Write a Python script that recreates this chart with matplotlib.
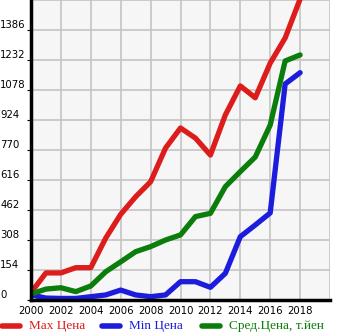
import matplotlib
matplotlib.use("Agg")
import matplotlib.pyplot as plt
from matplotlib.lines import Line2D

years = list(range(2000, 2019))
max_price = [38, 139, 139, 166, 166, 318, 440, 530, 607, 780, 883, 831, 744, 950, 1099, 1038, 1216, 1345, 1545]
min_price = [26, 10, 8, 8, 17, 26, 51, 26, 17, 26, 94, 94, 65, 137, 325, 385, 447, 1109, 1167]
avg_price = [31, 56, 63, 43, 72, 145, 196, 248, 274, 308, 334, 428, 445, 582, 659, 734, 898, 1227, 1258]
yticks = [0, 154, 308, 462, 616, 770, 924, 1078, 1232, 1386]
xticks = list(range(2000, 2019, 2))
labels = ["Max Цена", "Min Цена", "Сред.Цена, т.йен"]
colors = ["#dd1c1c", "#1c1cdd", "#0a7d0a"]

W, H = 345, 335
fig = plt.figure(figsize=(W / 100, H / 100), dpi=100)
ax = fig.add_axes([31 / W, (H - 300) / H, 299 / W, 300 / H])
ax.set_facecolor("#f6f6f6")
ax.set_xlim(2000, 2020)
ax.set_ylim(0, 1540)

for y in yticks[1:] + [1540]:
    ax.axhline(y, color="#c4c4c4", lw=1.2, zorder=1)
for x in range(2002, 2021, 2):
    ax.axvline(x, color="#c4c4c4", lw=1.2, zorder=1)

for vals, c in zip([max_price, min_price, avg_price], colors):
    ax.plot(years, vals, color=c, lw=3.8, solid_capstyle="round", solid_joinstyle="round", zorder=3, clip_on=True)

for s in ["top", "right"]:
    ax.spines[s].set_visible(False)
ax.spines["left"].set_linewidth(2.5)
ax.spines["bottom"].set_linewidth(2.5)
ax.spines["left"].set_zorder(4)
ax.spines["bottom"].set_zorder(4)

ax.set_xticks(xticks)
ax.set_xticklabels([str(x) for x in xticks], fontsize=7.3, fontfamily="DejaVu Sans")
ax.set_yticks(yticks)
ax.set_yticklabels([])
ax.tick_params(axis="x", length=0, pad=4)
ax.tick_params(axis="y", length=3, width=0.8, direction="out")
for y in yticks:
    ax.text(-0.103, y, str(y), transform=ax.get_yaxis_transform(), fontsize=7.3,
            fontfamily="DejaVu Sans", ha="left", va="bottom")

xs = [0, 100, 200]
for xp, lab, c in zip(xs, labels, colors):
    fig.add_artist(Line2D([(xp + 2) / W, (xp + 20) / W], [(H - 326) / H] * 2, color=c, lw=4,
                          solid_capstyle="round"))
    fig.text((xp + 29) / W, (H - 326) / H, lab, color=c, fontsize=9.5,
             fontfamily="Liberation Serif", ha="left", va="center")

fig.savefig("out.png", dpi=100)
